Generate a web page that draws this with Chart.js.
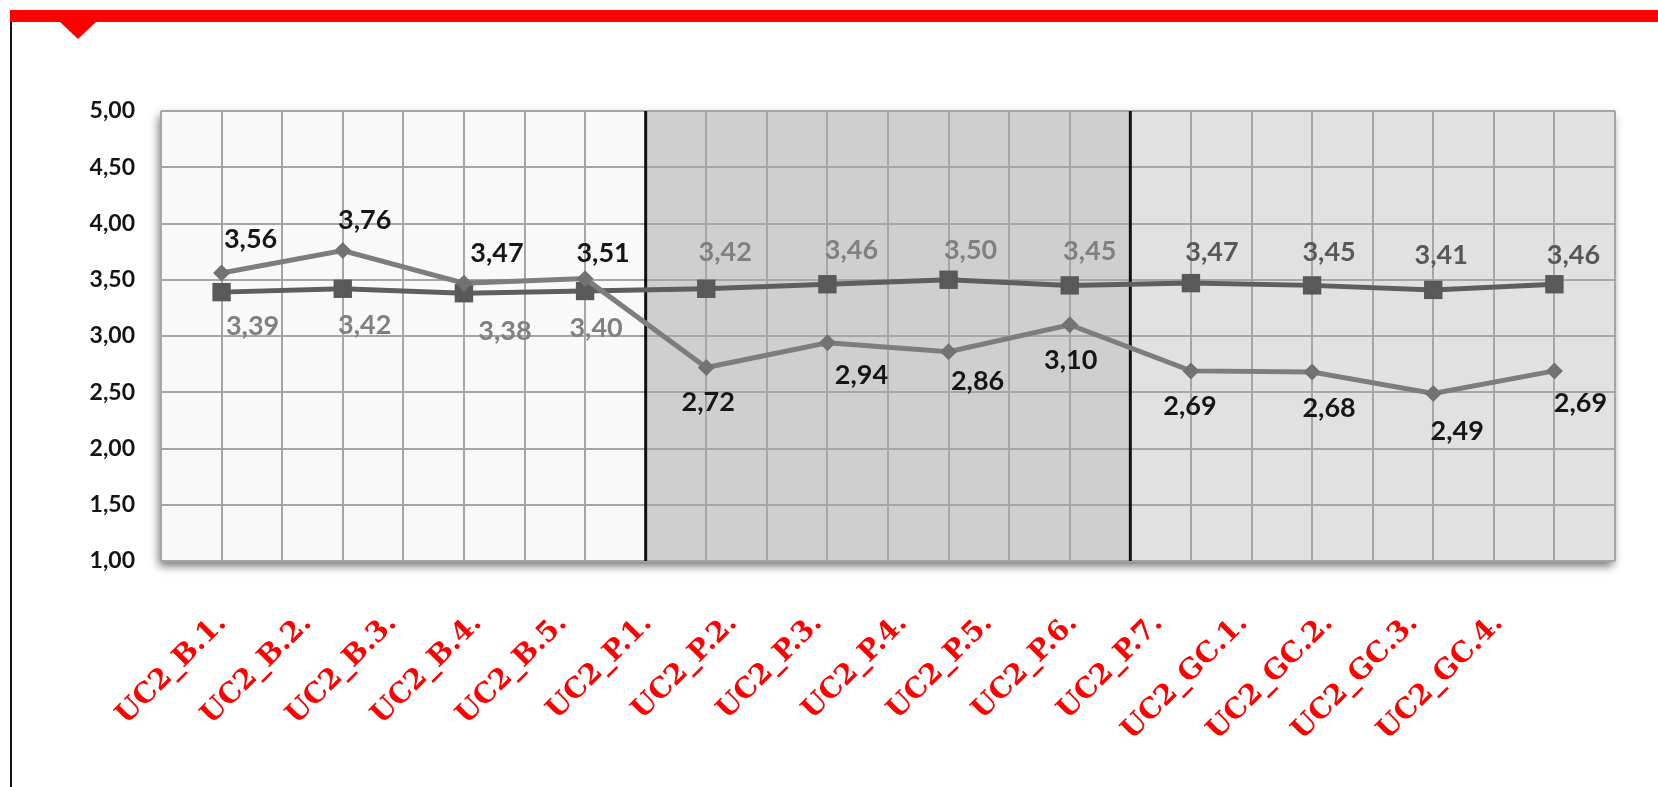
<!DOCTYPE html>
<html><head><meta charset="utf-8">
<script src="https://cdn.jsdelivr.net/npm/chart.js@4.4.0/dist/chart.umd.min.js"></script>
<style>
html,body{margin:0;padding:0;background:#fff;width:1658px;height:787px;overflow:hidden;}
#wrap{position:absolute;left:0;top:0;width:1658px;height:787px;}
#bar{position:absolute;left:10px;top:10px;width:1648px;height:12px;background:#ff0000;}
#tri{position:absolute;left:60px;top:22px;width:0;height:0;border-left:18px solid transparent;border-right:18px solid transparent;border-top:17px solid #ff0000;}
#vline{position:absolute;left:10px;top:22px;width:2px;height:765px;background:#111;}
</style></head><body>
<div id="wrap"><canvas id="c"></canvas></div>
<div id="bar"></div><div id="tri"></div><div id="vline"></div>
<script>
// ---- data ----
const categories = ['1','2','3','4','5','6','7','8','9','10','11','12'];
const tickLabels = ['UC2_B.1.','UC2_B.2.','UC2_B.3.','UC2_B.4.','UC2_B.5.','UC2_P.1.','UC2_P.2.','UC2_P.3.','UC2_P.4.','UC2_P.5.','UC2_P.6.','UC2_P.7.','UC2_GC.1.','UC2_GC.2.','UC2_GC.3.','UC2_GC.4.'];
const seriesDiamond = [3.56, 3.76, 3.47, 3.51, 2.72, 2.94, 2.86, 3.10, 2.69, 2.68, 2.49, 2.69];
const seriesSquare  = [3.39, 3.42, 3.38, 3.40, 3.42, 3.46, 3.50, 3.45, 3.47, 3.45, 3.41, 3.46];
const yMin = 1, yMax = 5, yStep = 0.5;

// ---- label placement (offsets from each point, px) ----
const diamondLabelDx = [29, 22, 33, 18, 2, 34, 29, 1, -1, 17, 24, 26];
const diamondLabelDy = [-34, -30, -30, -25, 35, 33, 30, 36, 35, 36, 38, 32];
const squareLabelDx  = [31, 22, 41, 11, 19, 24, 22, 20, 21, 17, 8, 19];
const squareLabelDy  = [34, 37, 38, 37, -36, -34, -29, -34, -31, -33, -35, -29];
const squareLabelColors = ['#808080','#808080','#808080','#808080','#808080','#808080','#808080','#808080','#585858','#585858','#585858','#585858'];

const bands = [
  {from: 0, to: 4, color: '#f9f9f9'},
  {from: 4, to: 8, color: '#cfcfcf'},
  {from: 8, to: 12, color: '#e1e1e1'}
];
const separators = [4, 8];

const fmt = v => v.toFixed(2).replace('.', ',');

const bgPlugin = {
  id: 'bg',
  beforeDraw(chart) {
    const {ctx, chartArea: a} = chart;
    const w = (a.right - a.left) / categories.length;
    ctx.save();
    ctx.shadowColor = 'rgba(0,0,0,0.55)';
    ctx.shadowBlur = 9;
    ctx.shadowOffsetX = -2;
    ctx.shadowOffsetY = 5;
    ctx.fillStyle = '#f9f9f9';
    ctx.fillRect(a.left, a.top, a.right - a.left, a.bottom - a.top);
    ctx.restore();
    ctx.save();
    bands.forEach(b => {
      ctx.fillStyle = b.color;
      ctx.fillRect(a.left + b.from * w, a.top, (b.to - b.from) * w, a.bottom - a.top);
    });
    ctx.restore();
  },
  beforeDatasetsDraw(chart) {
    const {ctx, chartArea: a} = chart;
    const w = (a.right - a.left) / categories.length;
    ctx.save();
    ctx.strokeStyle = '#111';
    ctx.lineWidth = 3;
    separators.forEach(s => {
      const x = a.left + s * w;
      ctx.beginPath(); ctx.moveTo(x, a.top); ctx.lineTo(x, a.bottom); ctx.stroke();
    });
    ctx.restore();
  },
  afterDatasetsDraw(chart) {
    const ctx = chart.ctx;
    ctx.save();
    ctx.font = 'bold 27px Lato';
    ctx.textAlign = 'center';
    ctx.textBaseline = 'middle';
    const m0 = chart.getDatasetMeta(0);
    m0.data.forEach((p, i) => {
      ctx.fillStyle = '#161616';
      ctx.fillText(fmt(seriesDiamond[i]), p.x + diamondLabelDx[i], p.y + diamondLabelDy[i]);
    });
    const m1 = chart.getDatasetMeta(1);
    m1.data.forEach((p, i) => {
      ctx.fillStyle = squareLabelColors[i];
      ctx.fillText(fmt(seriesSquare[i]), p.x + squareLabelDx[i], p.y + squareLabelDy[i]);
    });
    ctx.restore();
  }
};

new Chart(document.getElementById('c'), {
  type: 'line',
  data: {
    labels: categories,
    datasets: [
      {
        label: 'A', data: seriesDiamond, xAxisID: 'x', yAxisID: 'y',
        borderColor: '#7d7d7d', backgroundColor: '#727272', borderWidth: 5,
        pointStyle: 'rectRot', pointRadius: 8.5, pointBorderWidth: 0, pointHoverRadius: 8.5,
        tension: 0, order: 1
      },
      {
        label: 'B', data: seriesSquare, xAxisID: 'x', yAxisID: 'y',
        borderColor: '#5e5e5e', backgroundColor: '#595959', borderWidth: 5,
        pointStyle: 'rect', pointRadius: 13, pointBorderWidth: 0, pointHoverRadius: 13,
        tension: 0, order: 2
      }
    ]
  },
  options: {
    responsive: true, maintainAspectRatio: false, animation: false,
    layout: {padding: {top: 111, right: 43, bottom: 0, left: 0}},
    plugins: {legend: {display: false}, tooltip: {enabled: false}},
    scales: {
      x: {
        type: 'category', position: 'bottom', offset: true,
        grid: {offset: true, color: '#a6a6a6', lineWidth: 2, drawTicks: false},
        border: {display: false},
        ticks: {display: false},
        afterFit: s => { s.height = 0; }
      },
      x3: {
        type: 'category', labels: categories, position: 'bottom', offset: true,
        grid: {offset: false, color: '#a6a6a6', lineWidth: 2, drawTicks: false},
        border: {display: false},
        ticks: {display: false},
        afterFit: s => { s.height = 0; }
      },
      x2: {
        type: 'linear', position: 'bottom', min: -0.72, max: 16.365,
        grid: {display: false, drawTicks: false}, border: {display: false},
        afterBuildTicks: s => { s.ticks = tickLabels.map((t, i) => ({value: i})); },
        ticks: {
          autoSkip: false, minRotation: 45, maxRotation: 45, padding: 46,
          color: '#ff0000', font: {family: "'DejaVu Serif', 'Liberation Serif', serif", weight: 'bold', size: 28},
          callback: v => tickLabels[v]
        },
        afterFit: s => { s.height = 226; }
      },
      y: {
        type: 'linear', position: 'left', min: yMin, max: yMax,
        grid: {color: '#a6a6a6', lineWidth: 2, drawTicks: false},
        border: {display: false},
        ticks: {
          stepSize: yStep, padding: 26, color: '#141414',
          font: {family: 'Lato', weight: 'bold', size: 23},
          callback: v => fmt(v)
        },
        afterFit: s => { s.width = 161; }
      }
    }
  },
  plugins: [bgPlugin]
});
</script>
</body></html>
